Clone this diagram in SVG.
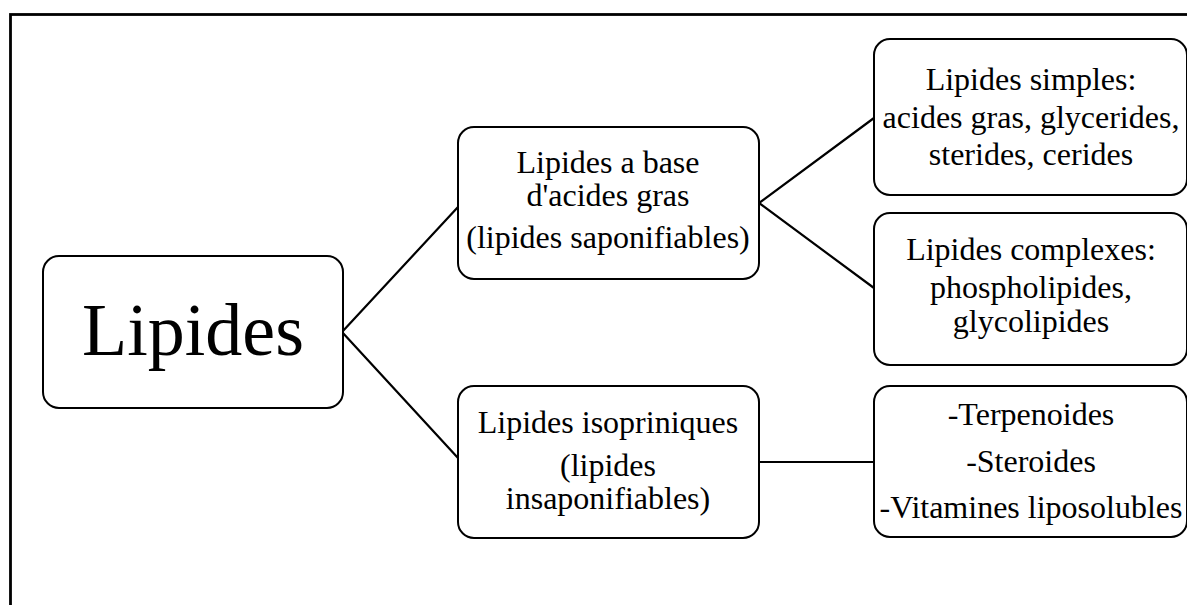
<svg xmlns="http://www.w3.org/2000/svg" width="1187" height="605" viewBox="0 0 1187 605">
<style>
.box{fill:#fff;stroke:#000;stroke-width:2}
.t{font-family:"Liberation Serif","Times New Roman",serif;font-size:32px;fill:#000;text-anchor:middle}
.big{font-size:74px}
.con{stroke:#000;stroke-width:2.2;fill:none}
</style>
<rect x="0" y="0" width="1187" height="605" fill="#fff"/>
<rect x="10.5" y="14.5" width="1200" height="620" fill="none" stroke="#000" stroke-width="2.8"/>
<g id="connectors">
<polyline class="con" points="458,207 342,332 458,458"/>
<polyline class="con" points="874,118 759,203 874,288"/>
<line class="con" x1="759" y1="462" x2="874" y2="462"/>
</g>
<g id="n-lipides">
<rect class="box" x="43" y="256" width="300" height="152" rx="16"/>
<text class="t big" x="193" y="355">Lipides</text>
</g>
<g id="n-base">
<rect class="box" x="458" y="127" width="301" height="152" rx="16"/>
<text class="t" x="608" y="173">Lipides a base</text>
<text class="t" x="608" y="206">d'acides gras</text>
<text class="t" x="608" y="248">(lipides saponifiables)</text>
</g>
<g id="n-iso">
<rect class="box" x="458" y="386" width="301" height="152" rx="16"/>
<text class="t" x="608" y="433">Lipides isopriniques</text>
<text class="t" x="608" y="476">(lipides</text>
<text class="t" x="608" y="509">insaponifiables)</text>
</g>
<g id="n-simples">
<rect class="box" x="874" y="39" width="313" height="156" rx="16"/>
<text class="t" x="1031" y="90">Lipides simples:</text>
<text class="t" x="1031" y="128">acides gras, glycerides,</text>
<text class="t" x="1031" y="165">sterides, cerides</text>
</g>
<g id="n-complexes">
<rect class="box" x="874" y="213" width="313" height="152" rx="16"/>
<text class="t" x="1031" y="260">Lipides complexes:</text>
<text class="t" x="1031" y="298">phospholipides,</text>
<text class="t" x="1031" y="332">glycolipides</text>
</g>
<g id="n-terp">
<rect class="box" x="874" y="386" width="313" height="151" rx="16"/>
<text class="t" x="1031" y="425">-Terpenoides</text>
<text class="t" x="1031" y="472">-Steroides</text>
<text class="t" x="1031" y="518">-Vitamines liposolubles</text>
</g>
</svg>
